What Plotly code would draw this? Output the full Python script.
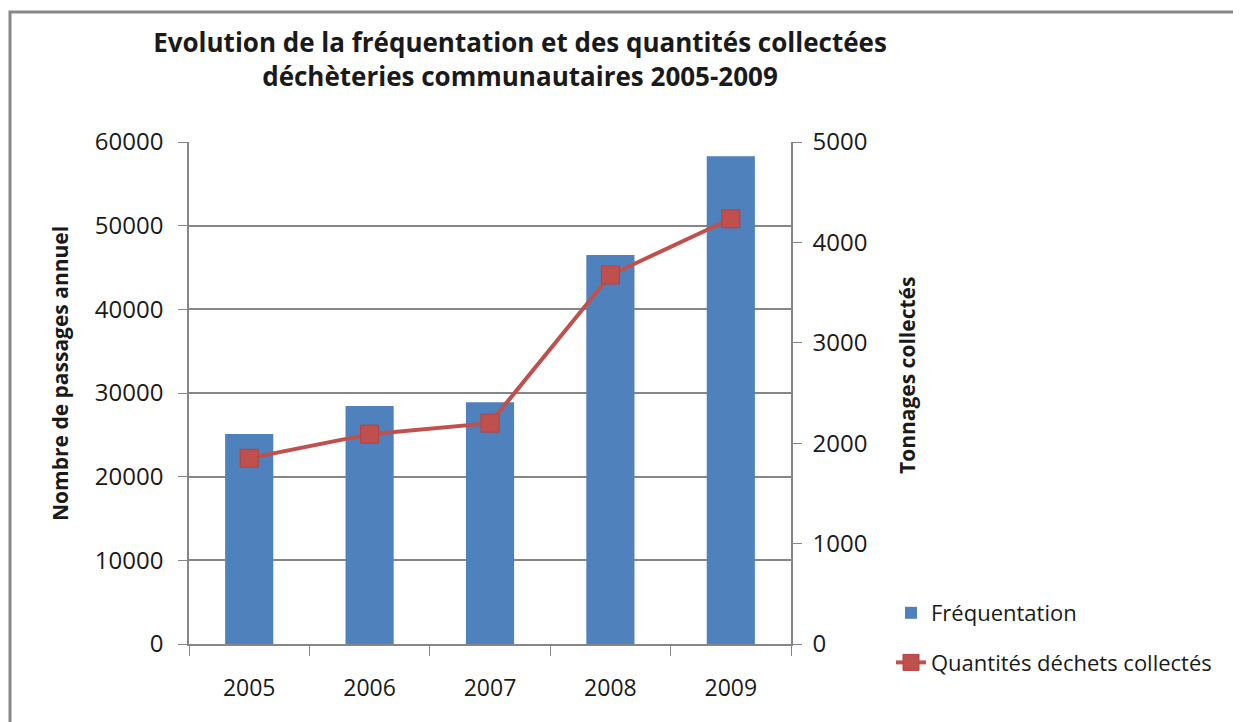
import plotly.graph_objects as go

years = ["2005", "2006", "2007", "2008", "2009"]
frequentation = [25100, 28450, 28900, 46500, 58300]
tonnages = [1850, 2090, 2200, 3675, 4235]

title_text = "Evolution de la fréquentation et des quantités collectées<br>déchèteries communautaires 2005-2009"
y1_title = "Nombre de passages annuel"
y2_title = "Tonnages collectés"
bar_name = "Fréquentation"
line_name = "Quantités déchets collectés"

OFF = 8  # page body margin
W, H = 1241 - OFF, 722 - OFF
L, R, T, B = 189 - OFF, 791 - OFF, 142 - OFF, 644 - OFF
pw, ph = R - L, B - T

def px_x(x):
    return (x - OFF - L) / pw

def px_y(y):
    return (B - (y - OFF)) / ph

FONT = "Open Sans"
GRID = "#868686"
TXT = "#1a1a1a"

fig = go.Figure()
fig.add_trace(go.Bar(
    x=years, y=frequentation, name=bar_name,
    marker=dict(color="#4F81BD", line=dict(width=0)),
    legendgroup="a",
))
fig.add_trace(go.Scatter(
    x=years, y=tonnages, name=line_name, yaxis="y2",
    mode="lines+markers",
    line=dict(color="#C0504D", width=4),
    marker=dict(symbol="square", size=18, color="#C0504D",
                line=dict(color="#B5413E", width=1)),
    legendgroup="b",
))

fig.update_layout(
    width=W, height=H,
    margin=dict(l=L, r=W - R, t=T, b=H - B, pad=0),
    paper_bgcolor="white", plot_bgcolor="white",
    font=dict(family=FONT, size=23, color=TXT),
    bargap=0.6,
    showlegend=True,
    title=dict(
        text=title_text,
        font=dict(family=FONT, size=26, color=TXT, weight="bold"),
        x=px_x(520), xref="paper", xanchor="center",
        y=1 - 44 / H, yref="container", yanchor="middle",
    ),
    xaxis=dict(
        type="category",
        showgrid=False,
        showline=True, linecolor=GRID, linewidth=1.5,
        ticks="outside", ticklen=10, tickcolor=GRID, tickwidth=1,
        tickson="boundaries",
        ticklabelstandoff=23,
        tickfont=dict(size=23),
    ),
    yaxis=dict(
        range=[0, 60000], tickvals=[0, 10000, 20000, 30000, 40000, 50000, 60000],
        tickformat="d",
        showgrid=True, gridcolor=GRID, gridwidth=1.5,
        showline=True, linecolor=GRID, linewidth=1.5,
        ticks="outside", ticklen=9, tickcolor=GRID,
        ticklabelstandoff=10,
        zeroline=False,
        tickfont=dict(size=24),
    ),
    yaxis2=dict(
        range=[0, 5000], tickvals=[0, 1000, 2000, 3000, 4000, 5000],
        tickformat="d",
        overlaying="y", side="right",
        showgrid=False,
        showline=True, linecolor=GRID, linewidth=1.5,
        ticks="outside", ticklen=9, tickcolor=GRID,
        ticklabelstandoff=6,
        zeroline=False,
        tickfont=dict(size=24),
    ),
    legend=dict(
        x=px_x(891), xanchor="left",
        y=px_y(592), yanchor="top",
        font=dict(size=22),
        tracegroupgap=18,
        bgcolor="rgba(0,0,0,0)",
    ),
    annotations=[
        dict(text=y1_title, textangle=-90, showarrow=False,
             xref="paper", yref="paper", x=px_x(60), y=px_y(374),
             xanchor="center", yanchor="middle",
             font=dict(size=21, weight="bold", color=TXT)),
        dict(text=y2_title, textangle=-90, showarrow=False,
             xref="paper", yref="paper", x=px_x(907), y=px_y(376),
             xanchor="center", yanchor="middle",
             font=dict(size=21, weight="bold", color=TXT)),
    ],
    shapes=[
        dict(type="rect", xref="paper", yref="paper",
             x0=px_x(10), x1=px_x(1270), y0=px_y(780), y1=px_y(12),
             line=dict(color="#878787", width=3), fillcolor="rgba(0,0,0,0)",
             layer="below"),
    ],
)

fig.write_html("out.html")
